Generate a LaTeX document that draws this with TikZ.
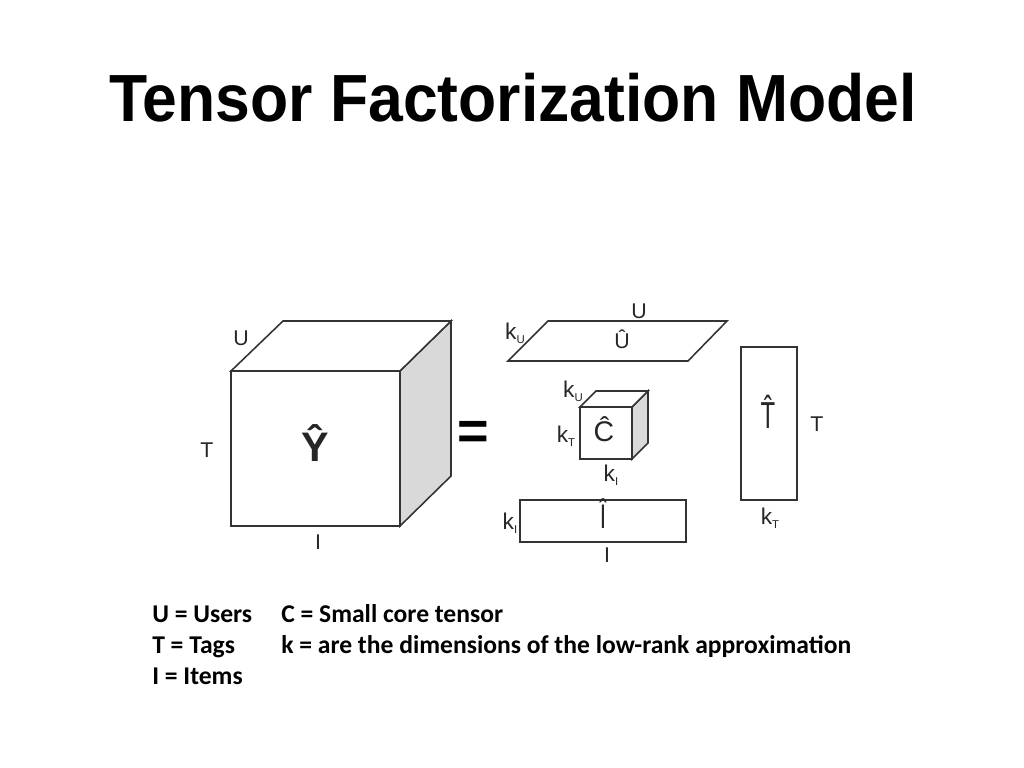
\documentclass[tikz,border=0pt]{standalone}
\usepackage{fontspec}
\setmainfont{Liberation Sans}
\newfontfamily\bodyfont{Carlito}
\newcommand{\ksub}[1]{k\raisebox{-0.35ex}{\fontsize{8}{8}\selectfont #1}}
\begin{document}
\begin{tikzpicture}[x=0.703125pt,y=-0.703125pt,
  edge/.style={draw=black!80,line width=1.1pt,line join=miter},
  side/.style={edge,fill=black!15},
  lbl/.style={text=black!85,font=\fontsize{15}{15}\selectfont,inner sep=0pt},
  klbl/.style={text=black!85,font=\fontsize{16}{16}\selectfont,inner sep=0pt},
  hatlbl/.style={text=black!85,inner sep=0pt},
  body/.style={anchor=base west,inner sep=0pt,font=\bodyfont\bfseries\fontsize{18}{18}\selectfont}]
\useasboundingbox (0,0) rectangle (1024,768);
% title
\node[anchor=base west,inner sep=0pt] (title) at (109,122)
  {\scalebox{0.955}[1.02]{\fontsize{46}{46}\selectfont\bfseries Tensor Factorization Model}};
% big cube Y
\coordinate (a1) at (231,371); \coordinate (a2) at (400,371);
\coordinate (a3) at (400,526); \coordinate (a4) at (231,526);
\coordinate (b1) at (283,321); \coordinate (b2) at (451,321);
\coordinate (b3) at (451,476);
\draw[side] (a2) -- (b2) -- (b3) -- (a3) -- cycle;
\draw[edge,fill=white] (a1) -- (b1) -- (b2) -- (a2) -- cycle;
\draw[edge,fill=white] (a1) rectangle (a3);
\node[hatlbl] (Y) at (315,443) {\fontsize{29}{29}\selectfont\bfseries \^{Y}};
\node[lbl] (U1) at (241,338) {U};
\node[lbl] (T1) at (207,450) {T};
\node[lbl] (I1) at (318,542) {I};
% equals
\node[inner sep=0pt] (eq) at (473,435) {\fontsize{38}{38}\selectfont\bfseries =};
% U hat parallelogram
\coordinate (p1) at (508,361); \coordinate (p2) at (688,361);
\coordinate (p3) at (727,321); \coordinate (p4) at (548,321);
\draw[edge] (p1) -- (p2) -- (p3) -- (p4) -- cycle;
\node[lbl] (U2) at (639,311) {U};
\node[hatlbl] (Uh) at (622,339) {\fontsize{15}{15}\selectfont \^{U}};
\node[klbl] (kU1) at (515,333) {\ksub{U}};
% small cube C
\coordinate (c1) at (580,407); \coordinate (c2) at (632,407);
\coordinate (c3) at (632,459); \coordinate (c4) at (580,459);
\coordinate (d1) at (596,391); \coordinate (d2) at (648,391);
\coordinate (d3) at (648,443);
\draw[side] (c2) -- (d2) -- (d3) -- (c3) -- cycle;
\draw[edge,fill=white] (c1) -- (d1) -- (d2) -- (c2) -- cycle;
\draw[edge,fill=white] (c1) rectangle (c3);
\node[hatlbl] (Ch) at (604,429) {\fontsize{20}{20}\selectfont \^{C}};
\node[klbl] (kU2) at (573,391) {\ksub{U}};
\node[klbl] (kT1) at (566,436) {\ksub{T}};
\node[klbl] (kI1) at (611,475) {\ksub{I}};
% I hat rectangle
\draw[edge] (520,500) rectangle (686,542);
\node[hatlbl] (Ih) at (603,514) {\scalebox{0.8}[1.2]{\fontsize{20}{20}\selectfont \^{I}}};
\node[klbl] (kI2) at (510,523) {\ksub{I}};
\node[lbl] (I2) at (607,555) {I};
% T hat rectangle
\draw[edge] (741,347) rectangle (797,500);
\node[hatlbl] (Th) at (768,412) {\scalebox{0.7}[1.1]{\fontsize{24}{24}\selectfont \^{T}}};
\node[lbl] (T2) at (817,424) {T};
\node[klbl] (kT2) at (770,518) {\ksub{T}};
% legend
\node[body] (l1) at (152,622) {U = Users};
\node[body] (l2) at (152,653) {T = Tags};
\node[body] (l3) at (152,684) {I = Items};
\node[body] (l4) at (281,622) {C = Small core tensor};
\node[body] (l5) at (281,653) {k = are the dimensions of the low-rank approximation};
\end{tikzpicture}
\end{document}
